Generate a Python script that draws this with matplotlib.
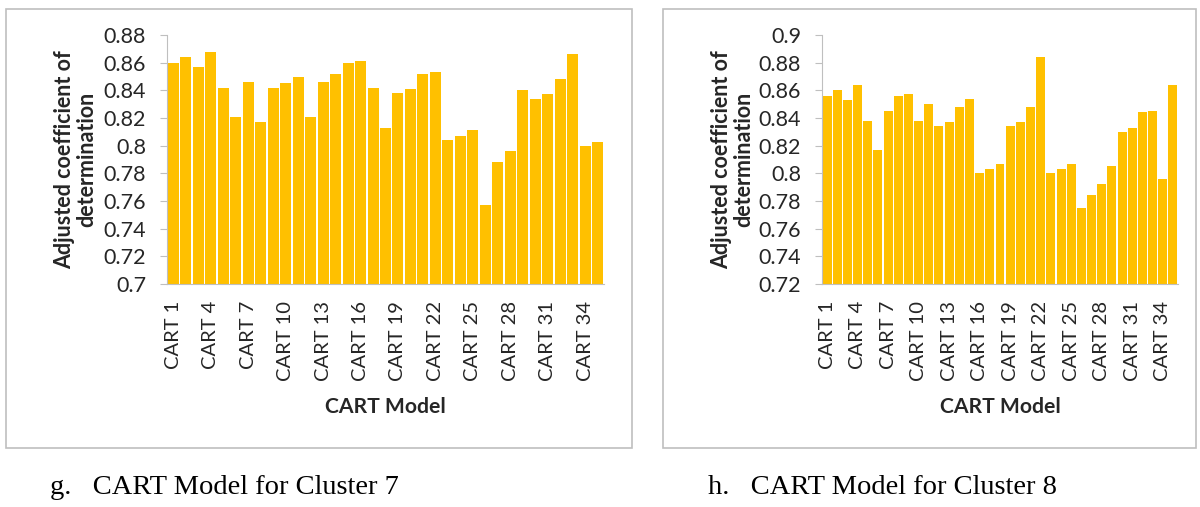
"""
Adjusted coefficient of determination for the CART models, clusters 7 and 8
"""

import matplotlib.pyplot as plt
from matplotlib.patches import Rectangle
from matplotlib.ticker import FuncFormatter

# DATA

models = ['CART ' + str(i) for i in range(1, 36)]

cluster7_r2 = [0.860, 0.864, 0.857, 0.868, 0.842, 0.821, 0.846, 0.817, 0.842, 0.845,
               0.850, 0.821, 0.846, 0.852, 0.860, 0.861, 0.842, 0.813, 0.838, 0.841,
               0.852, 0.853, 0.804, 0.807, 0.811, 0.757, 0.788, 0.796, 0.840, 0.834,
               0.837, 0.848, 0.866, 0.800, 0.803]

cluster8_r2 = [0.856, 0.860, 0.853, 0.864, 0.838, 0.817, 0.845, 0.856, 0.857, 0.838,
               0.850, 0.834, 0.837, 0.848, 0.854, 0.800, 0.803, 0.807, 0.834, 0.837,
               0.848, 0.884, 0.800, 0.803, 0.807, 0.775, 0.784, 0.792, 0.805, 0.830,
               0.833, 0.844, 0.845, 0.796, 0.864]

cluster7_ticks = [0.70, 0.72, 0.74, 0.76, 0.78, 0.80, 0.82, 0.84, 0.86, 0.88]
cluster8_ticks = [0.72, 0.74, 0.76, 0.78, 0.80, 0.82, 0.84, 0.86, 0.88, 0.90]

captions = ['g.   CART Model for Cluster 7', 'h.   CART Model for Cluster 8']

# FUNCTIONS

BAR = '#FFC000'
GREY = '#BFBFBF'
TXT = '#262626'
FONT = 'Lato'


def excel_fmt(v, pos):
    return ('%.2f' % v).rstrip('0').rstrip('.')


def draw_panel(fig, rect, values, yticks, label_x):
    ax = fig.add_axes(rect)
    x = range(len(values))
    ax.bar(x, values, width=0.88, color=BAR, zorder=2)
    ax.set_xlim(-0.5, len(values) - 0.5)
    ax.set_ylim(yticks[0], yticks[-1])
    ax.set_yticks(yticks)
    ax.yaxis.set_major_formatter(FuncFormatter(excel_fmt))
    ax.set_xticks(list(x)[::3])
    ax.set_xticklabels(models[::3], rotation=90, family=FONT, fontsize=14.5, color=TXT)
    for lab in ax.get_yticklabels():
        lab.set_family(FONT)
        lab.set_fontsize(15.5)
        lab.set_color(TXT)
    ax.tick_params(axis='x', length=0, pad=12)
    ax.tick_params(axis='y', length=5, color=GREY, pad=10)
    for side in ['top', 'right']:
        ax.spines[side].set_visible(False)
    ax.spines['left'].set_color(GREY)
    ax.spines['bottom'].set_color(GREY)
    ax.set_ylabel('Adjusted coefficient of\ndetermination', family=FONT, fontsize=15.5,
                  fontweight='bold', color=TXT, linespacing=1.05)
    ax.yaxis.set_label_coords(label_x, 0.5)
    ax.set_xlabel('CART Model', family=FONT, fontsize=15.2, fontweight='bold', color=TXT,
                  labelpad=12)
    return ax


fig = plt.figure(figsize=(12, 5.07), dpi=100)
W, H = 1200.0, 507.0

# outer frames
fig.patches.append(Rectangle((6 / W, 1 - 448 / H), 626 / W, 439 / H, transform=fig.transFigure,
                             fill=False, edgecolor=GREY, linewidth=1.2))
fig.patches.append(Rectangle((663 / W, 1 - 448 / H), 533 / W, 439 / H, transform=fig.transFigure,
                             fill=False, edgecolor=GREY, linewidth=1.2))

draw_panel(fig, [167 / W, 1 - 284 / H, 437 / W, 249 / H], cluster7_r2, cluster7_ticks, -0.16)
draw_panel(fig, [822 / W, 1 - 284 / H, 356 / W, 249 / H], cluster8_r2, cluster8_ticks, -0.19)

fig.text(50 / W, 1 - 488 / H, captions[0], family='Liberation Serif', fontsize=20.5, va='center')
fig.text(708 / W, 1 - 488 / H, captions[1], family='Liberation Serif', fontsize=20.5, va='center')

fig.savefig('out.png', dpi=100)
